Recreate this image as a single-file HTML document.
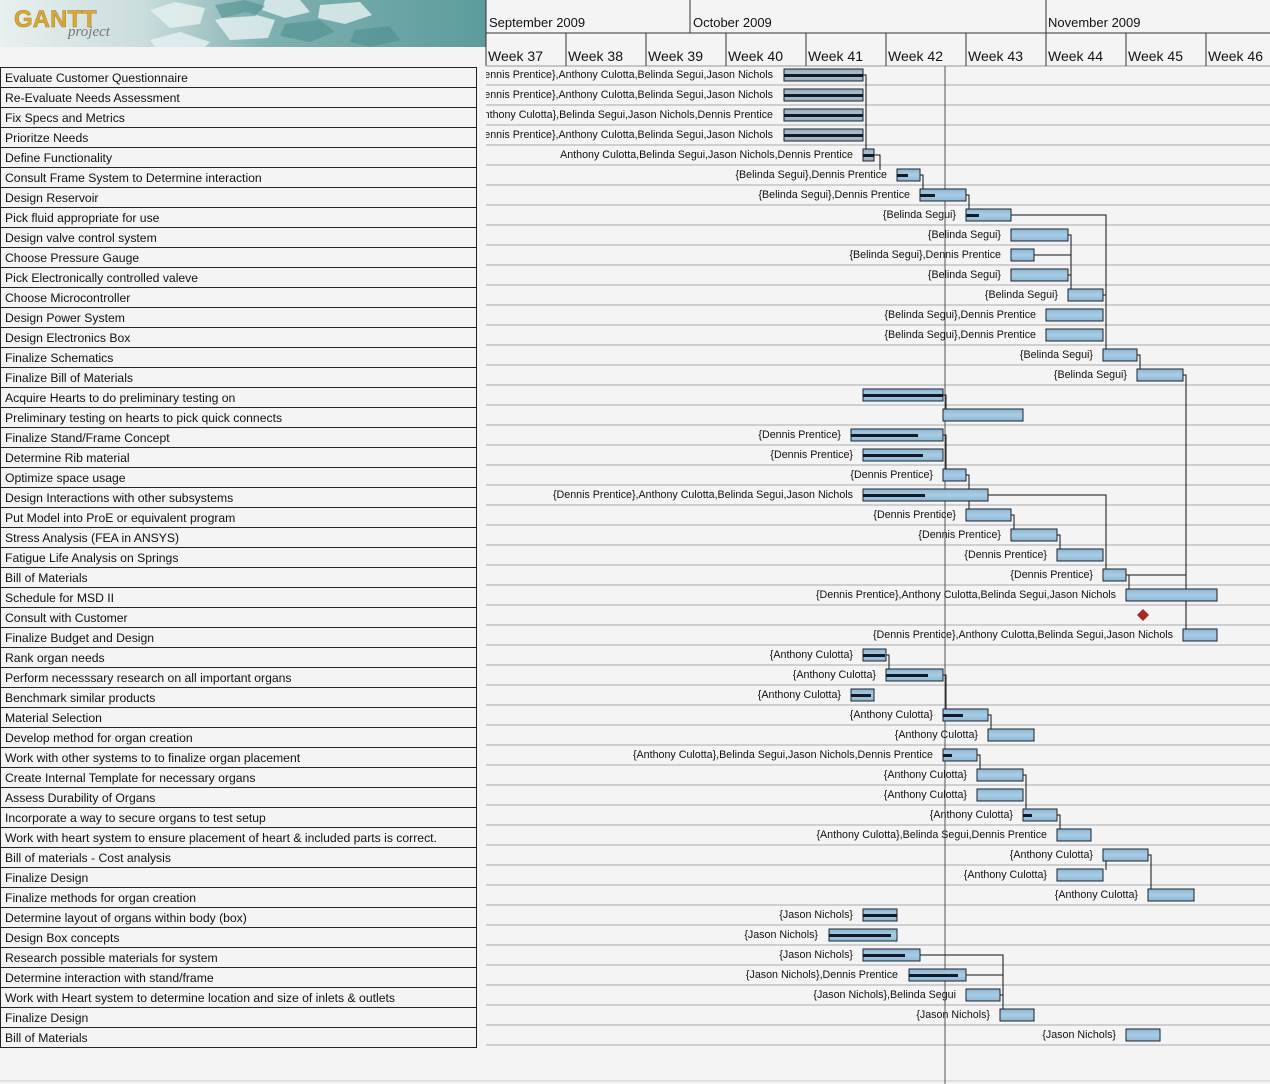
<!DOCTYPE html><html><head><meta charset="utf-8"><style>
body{margin:0;width:1270px;height:1084px;overflow:hidden;background:#f4f4f4;font-family:"Liberation Sans",sans-serif}
svg{display:block}
</style></head><body>
<svg width="1270" height="1084" xmlns="http://www.w3.org/2000/svg" font-family="Liberation Sans, sans-serif">
<defs>
<linearGradient id="logo" x1="0" x2="1" y1="0" y2="0"><stop offset="0" stop-color="#e8f0f0"/><stop offset="0.3" stop-color="#c9dcdc"/><stop offset="0.55" stop-color="#7fb0b0"/><stop offset="1" stop-color="#5d9c9c"/></linearGradient>
<linearGradient id="bb" x1="0" x2="0" y1="0" y2="1"><stop offset="0" stop-color="#8fb5d0"/><stop offset="0.5" stop-color="#a8cde6"/><stop offset="1" stop-color="#8fb5d0"/></linearGradient>
<linearGradient id="bg" x1="0" x2="0" y1="0" y2="1"><stop offset="0" stop-color="#98adbd"/><stop offset="0.5" stop-color="#b4c4d0"/><stop offset="1" stop-color="#98adbd"/></linearGradient>
<clipPath id="cl"><rect x="486" y="66" width="784" height="1018"/></clipPath>
</defs>
<rect width="1270" height="1084" fill="#f4f4f4"/>
<rect x="0" y="0" width="486" height="47" fill="url(#logo)"/>
<g fill="#e8f2f2" opacity="0.8">
<polygon points="150,10 175,2 205,8 200,24 170,28"/><polygon points="215,20 245,12 275,20 268,38 230,40"/>
<polygon points="265,0 300,0 310,12 285,18 262,10"/><polygon points="320,5 360,2 372,15 345,24 318,18"/>
<polygon points="150,40 180,32 210,42 205,47 155,47"/>
</g>
<g fill="#4f9090" opacity="0.6"><polygon points="215,5 245,0 265,6 255,16 222,18"/><polygon points="285,24 320,20 335,32 310,42 280,36"/><polygon points="355,30 390,26 400,40 370,47 350,42"/></g>
<text x="14" y="27" font-size="24" fill="#d8a838" stroke="#b08020" stroke-width="0.5" font-weight="bold">GANTT</text>
<text x="68" y="36" font-size="15" fill="#777" font-style="italic" font-family="Liberation Serif, serif">project</text>
<line x1="486" y1="0" x2="486" y2="66" stroke="#333"/>
<line x1="486" y1="33" x2="1270" y2="33" stroke="#333"/>
<line x1="486" y1="66" x2="1270" y2="66" stroke="#999"/>
<line x1="690" y1="0" x2="690" y2="33" stroke="#333"/>
<line x1="1046" y1="0" x2="1046" y2="33" stroke="#333"/>
<g font-size="13" fill="#111">
<text x="489" y="27">September 2009</text><text x="693" y="27">October 2009</text><text x="1048" y="27">November 2009</text>
</g>
<g stroke="#333"><line x1="566" y1="33" x2="566" y2="66"/><line x1="646" y1="33" x2="646" y2="66"/><line x1="726" y1="33" x2="726" y2="66"/><line x1="806" y1="33" x2="806" y2="66"/><line x1="886" y1="33" x2="886" y2="66"/><line x1="966" y1="33" x2="966" y2="66"/><line x1="1046" y1="33" x2="1046" y2="66"/><line x1="1126" y1="33" x2="1126" y2="66"/><line x1="1206" y1="33" x2="1206" y2="66"/></g>
<g font-size="14" fill="#111" xml:space="preserve">
<text x="488" y="61">Week  37</text><text x="568" y="61">Week  38</text><text x="648" y="61">Week  39</text><text x="728" y="61">Week  40</text><text x="808" y="61">Week  41</text><text x="888" y="61">Week  42</text><text x="968" y="61">Week  43</text><text x="1048" y="61">Week  44</text><text x="1128" y="61">Week  45</text><text x="1208" y="61">Week  46</text>
</g>
<g stroke="#aaa">
<line x1="486" x2="1270" y1="85" y2="85"/><line x1="486" x2="1270" y1="105" y2="105"/><line x1="486" x2="1270" y1="125" y2="125"/><line x1="486" x2="1270" y1="145" y2="145"/><line x1="486" x2="1270" y1="165" y2="165"/><line x1="486" x2="1270" y1="185" y2="185"/><line x1="486" x2="1270" y1="205" y2="205"/><line x1="486" x2="1270" y1="225" y2="225"/><line x1="486" x2="1270" y1="245" y2="245"/><line x1="486" x2="1270" y1="265" y2="265"/><line x1="486" x2="1270" y1="285" y2="285"/><line x1="486" x2="1270" y1="305" y2="305"/><line x1="486" x2="1270" y1="325" y2="325"/><line x1="486" x2="1270" y1="345" y2="345"/><line x1="486" x2="1270" y1="365" y2="365"/><line x1="486" x2="1270" y1="385" y2="385"/><line x1="486" x2="1270" y1="405" y2="405"/><line x1="486" x2="1270" y1="425" y2="425"/><line x1="486" x2="1270" y1="445" y2="445"/><line x1="486" x2="1270" y1="465" y2="465"/><line x1="486" x2="1270" y1="485" y2="485"/><line x1="486" x2="1270" y1="505" y2="505"/><line x1="486" x2="1270" y1="525" y2="525"/><line x1="486" x2="1270" y1="545" y2="545"/><line x1="486" x2="1270" y1="565" y2="565"/><line x1="486" x2="1270" y1="585" y2="585"/><line x1="486" x2="1270" y1="605" y2="605"/><line x1="486" x2="1270" y1="625" y2="625"/><line x1="486" x2="1270" y1="645" y2="645"/><line x1="486" x2="1270" y1="665" y2="665"/><line x1="486" x2="1270" y1="685" y2="685"/><line x1="486" x2="1270" y1="705" y2="705"/><line x1="486" x2="1270" y1="725" y2="725"/><line x1="486" x2="1270" y1="745" y2="745"/><line x1="486" x2="1270" y1="765" y2="765"/><line x1="486" x2="1270" y1="785" y2="785"/><line x1="486" x2="1270" y1="805" y2="805"/><line x1="486" x2="1270" y1="825" y2="825"/><line x1="486" x2="1270" y1="845" y2="845"/><line x1="486" x2="1270" y1="865" y2="865"/><line x1="486" x2="1270" y1="885" y2="885"/><line x1="486" x2="1270" y1="905" y2="905"/><line x1="486" x2="1270" y1="925" y2="925"/><line x1="486" x2="1270" y1="945" y2="945"/><line x1="486" x2="1270" y1="965" y2="965"/><line x1="486" x2="1270" y1="985" y2="985"/><line x1="486" x2="1270" y1="1005" y2="1005"/><line x1="486" x2="1270" y1="1025" y2="1025"/><line x1="486" x2="1270" y1="1045" y2="1045"/>
<line x1="0" x2="1270" y1="1081" y2="1081" stroke="#ccc"/>
</g>
<line x1="945" y1="66" x2="945" y2="1084" stroke="#555"/>
<rect x="0.5" y="67.5" width="476" height="980" stroke="#222" fill="#f4f4f4"/>
<g stroke="#222"><line x1="0" x2="477" y1="87.5" y2="87.5"/><line x1="0" x2="477" y1="107.5" y2="107.5"/><line x1="0" x2="477" y1="127.5" y2="127.5"/><line x1="0" x2="477" y1="147.5" y2="147.5"/><line x1="0" x2="477" y1="167.5" y2="167.5"/><line x1="0" x2="477" y1="187.5" y2="187.5"/><line x1="0" x2="477" y1="207.5" y2="207.5"/><line x1="0" x2="477" y1="227.5" y2="227.5"/><line x1="0" x2="477" y1="247.5" y2="247.5"/><line x1="0" x2="477" y1="267.5" y2="267.5"/><line x1="0" x2="477" y1="287.5" y2="287.5"/><line x1="0" x2="477" y1="307.5" y2="307.5"/><line x1="0" x2="477" y1="327.5" y2="327.5"/><line x1="0" x2="477" y1="347.5" y2="347.5"/><line x1="0" x2="477" y1="367.5" y2="367.5"/><line x1="0" x2="477" y1="387.5" y2="387.5"/><line x1="0" x2="477" y1="407.5" y2="407.5"/><line x1="0" x2="477" y1="427.5" y2="427.5"/><line x1="0" x2="477" y1="447.5" y2="447.5"/><line x1="0" x2="477" y1="467.5" y2="467.5"/><line x1="0" x2="477" y1="487.5" y2="487.5"/><line x1="0" x2="477" y1="507.5" y2="507.5"/><line x1="0" x2="477" y1="527.5" y2="527.5"/><line x1="0" x2="477" y1="547.5" y2="547.5"/><line x1="0" x2="477" y1="567.5" y2="567.5"/><line x1="0" x2="477" y1="587.5" y2="587.5"/><line x1="0" x2="477" y1="607.5" y2="607.5"/><line x1="0" x2="477" y1="627.5" y2="627.5"/><line x1="0" x2="477" y1="647.5" y2="647.5"/><line x1="0" x2="477" y1="667.5" y2="667.5"/><line x1="0" x2="477" y1="687.5" y2="687.5"/><line x1="0" x2="477" y1="707.5" y2="707.5"/><line x1="0" x2="477" y1="727.5" y2="727.5"/><line x1="0" x2="477" y1="747.5" y2="747.5"/><line x1="0" x2="477" y1="767.5" y2="767.5"/><line x1="0" x2="477" y1="787.5" y2="787.5"/><line x1="0" x2="477" y1="807.5" y2="807.5"/><line x1="0" x2="477" y1="827.5" y2="827.5"/><line x1="0" x2="477" y1="847.5" y2="847.5"/><line x1="0" x2="477" y1="867.5" y2="867.5"/><line x1="0" x2="477" y1="887.5" y2="887.5"/><line x1="0" x2="477" y1="907.5" y2="907.5"/><line x1="0" x2="477" y1="927.5" y2="927.5"/><line x1="0" x2="477" y1="947.5" y2="947.5"/><line x1="0" x2="477" y1="967.5" y2="967.5"/><line x1="0" x2="477" y1="987.5" y2="987.5"/><line x1="0" x2="477" y1="1007.5" y2="1007.5"/><line x1="0" x2="477" y1="1027.5" y2="1027.5"/></g>
<g font-size="12.2" fill="#111">
<text x="5" y="82">Evaluate Customer Questionnaire</text>
<text x="5" y="102">Re-Evaluate Needs Assessment</text>
<text x="5" y="122">Fix Specs and Metrics</text>
<text x="5" y="142">Prioritze Needs</text>
<text x="5" y="162">Define Functionality</text>
<text x="5" y="182">Consult Frame System to Determine interaction</text>
<text x="5" y="202">Design Reservoir</text>
<text x="5" y="222">Pick fluid appropriate for use</text>
<text x="5" y="242">Design valve control system</text>
<text x="5" y="262">Choose Pressure Gauge</text>
<text x="5" y="282">Pick Electronically controlled valeve</text>
<text x="5" y="302">Choose Microcontroller</text>
<text x="5" y="322">Design Power System</text>
<text x="5" y="342">Design Electronics Box</text>
<text x="5" y="362">Finalize Schematics</text>
<text x="5" y="382">Finalize Bill of Materials</text>
<text x="5" y="402">Acquire Hearts to do preliminary testing on</text>
<text x="5" y="422">Preliminary testing on hearts to pick quick connects</text>
<text x="5" y="442">Finalize Stand/Frame Concept</text>
<text x="5" y="462">Determine Rib material</text>
<text x="5" y="482">Optimize space usage</text>
<text x="5" y="502">Design Interactions with other subsystems</text>
<text x="5" y="522">Put Model into ProE or equivalent program</text>
<text x="5" y="542">Stress Analysis (FEA in ANSYS)</text>
<text x="5" y="562">Fatigue Life Analysis on Springs</text>
<text x="5" y="582">Bill of Materials</text>
<text x="5" y="602">Schedule for MSD II</text>
<text x="5" y="622">Consult with Customer</text>
<text x="5" y="642">Finalize Budget and Design</text>
<text x="5" y="662">Rank organ needs</text>
<text x="5" y="682">Perform necesssary research on all important organs</text>
<text x="5" y="702">Benchmark similar products</text>
<text x="5" y="722">Material Selection</text>
<text x="5" y="742">Develop method for organ creation</text>
<text x="5" y="762">Work with other systems to to finalize organ placement</text>
<text x="5" y="782">Create Internal Template for necessary organs</text>
<text x="5" y="802">Assess Durability of Organs</text>
<text x="5" y="822">Incorporate a way to secure organs to test setup</text>
<text x="5" y="842">Work with heart system to ensure placement of heart &amp; included parts is correct.</text>
<text x="5" y="862">Bill of materials - Cost analysis</text>
<text x="5" y="882">Finalize Design</text>
<text x="5" y="902">Finalize methods for organ creation</text>
<text x="5" y="922">Determine layout of organs within body (box)</text>
<text x="5" y="942">Design Box concepts</text>
<text x="5" y="962">Research possible materials for system</text>
<text x="5" y="982">Determine interaction with stand/frame</text>
<text x="5" y="1002">Work with Heart system to determine location and size of inlets &amp; outlets</text>
<text x="5" y="1022">Finalize Design</text>
<text x="5" y="1042">Bill of Materials</text>
</g>
<g stroke="#111" fill="none" clip-path="url(#cl)">
<path d="M863,75 H866 V150"/><path d="M874,155 H880 V170"/>
<path d="M920,175 H923 V190"/><path d="M966,195 H969 V210"/>
<path d="M1011,215 H1106 V350"/><path d="M1068,235 H1071 V290"/><path d="M1034,255 H1071"/><path d="M1068,275 H1071"/>
<path d="M1103,295 H1106"/><path d="M1137,355 H1140 V370"/><path d="M1183,375 H1186 V630"/>
<path d="M943,395 H946 V410"/><path d="M943,435 H946 V470"/><path d="M966,475 H969 V510"/>
<path d="M988,495 H1106 V570"/><path d="M1011,515 H1014 V530"/><path d="M1057,535 H1060 V550"/>
<path d="M1126,575 H1186"/><path d="M1126,575 H1129 V590"/>
<path d="M886,655 H889 V670"/><path d="M943,675 H946 V710"/><path d="M988,715 H991 V730"/>
<path d="M977,755 H980 V770"/><path d="M1023,775 H1026 V810"/><path d="M1057,815 H1060 V830"/>
<path d="M1103,855 H1106 V870"/><path d="M1148,855 H1151 V890"/>
<path d="M920,955 H1003 V1010"/><path d="M966,975 H1003"/><path d="M1000,995 H1003"/>
</g>
<g stroke="#1a2330" stroke-width="1">
<rect x="784" y="69" width="79" height="12" fill="url(#bg)"/>
<rect x="784" y="89" width="79" height="12" fill="url(#bg)"/>
<rect x="784" y="109" width="79" height="12" fill="url(#bg)"/>
<rect x="784" y="129" width="79" height="12" fill="url(#bg)"/>
<rect x="863" y="149" width="11" height="12" fill="url(#bg)"/>
<rect x="897" y="169" width="23" height="12" fill="url(#bb)"/>
<rect x="920" y="189" width="46" height="12" fill="url(#bb)"/>
<rect x="966" y="209" width="45" height="12" fill="url(#bb)"/>
<rect x="1011" y="229" width="57" height="12" fill="url(#bb)"/>
<rect x="1011" y="249" width="23" height="12" fill="url(#bb)"/>
<rect x="1011" y="269" width="57" height="12" fill="url(#bb)"/>
<rect x="1068" y="289" width="35" height="12" fill="url(#bb)"/>
<rect x="1046" y="309" width="57" height="12" fill="url(#bb)"/>
<rect x="1046" y="329" width="57" height="12" fill="url(#bb)"/>
<rect x="1103" y="349" width="34" height="12" fill="url(#bb)"/>
<rect x="1137" y="369" width="46" height="12" fill="url(#bb)"/>
<rect x="863" y="389" width="80" height="12" fill="url(#bb)"/>
<rect x="943" y="409" width="80" height="12" fill="url(#bb)"/>
<rect x="851" y="429" width="92" height="12" fill="url(#bb)"/>
<rect x="863" y="449" width="80" height="12" fill="url(#bb)"/>
<rect x="943" y="469" width="23" height="12" fill="url(#bb)"/>
<rect x="863" y="489" width="125" height="12" fill="url(#bb)"/>
<rect x="966" y="509" width="45" height="12" fill="url(#bb)"/>
<rect x="1011" y="529" width="46" height="12" fill="url(#bb)"/>
<rect x="1057" y="549" width="46" height="12" fill="url(#bb)"/>
<rect x="1103" y="569" width="23" height="12" fill="url(#bb)"/>
<rect x="1126" y="589" width="91" height="12" fill="url(#bb)"/>
<rect x="1183" y="629" width="34" height="12" fill="url(#bb)"/>
<rect x="863" y="649" width="23" height="12" fill="url(#bb)"/>
<rect x="886" y="669" width="57" height="12" fill="url(#bb)"/>
<rect x="851" y="689" width="23" height="12" fill="url(#bb)"/>
<rect x="943" y="709" width="45" height="12" fill="url(#bb)"/>
<rect x="988" y="729" width="46" height="12" fill="url(#bb)"/>
<rect x="943" y="749" width="34" height="12" fill="url(#bb)"/>
<rect x="977" y="769" width="46" height="12" fill="url(#bb)"/>
<rect x="977" y="789" width="46" height="12" fill="url(#bb)"/>
<rect x="1023" y="809" width="34" height="12" fill="url(#bb)"/>
<rect x="1057" y="829" width="34" height="12" fill="url(#bb)"/>
<rect x="1103" y="849" width="45" height="12" fill="url(#bb)"/>
<rect x="1057" y="869" width="46" height="12" fill="url(#bb)"/>
<rect x="1148" y="889" width="46" height="12" fill="url(#bb)"/>
<rect x="863" y="909" width="34" height="12" fill="url(#bb)"/>
<rect x="829" y="929" width="68" height="12" fill="url(#bb)"/>
<rect x="863" y="949" width="57" height="12" fill="url(#bb)"/>
<rect x="909" y="969" width="57" height="12" fill="url(#bb)"/>
<rect x="966" y="989" width="34" height="12" fill="url(#bb)"/>
<rect x="1000" y="1009" width="34" height="12" fill="url(#bb)"/>
<rect x="1126" y="1029" width="34" height="12" fill="url(#bb)"/>
</g>
<g fill="#111a28">
<rect x="784" y="74" width="79" height="3"/><rect x="784" y="94" width="79" height="3"/><rect x="784" y="114" width="79" height="3"/><rect x="784" y="134" width="79" height="3"/><rect x="863" y="154" width="11" height="3"/>
<rect x="897" y="174" width="11" height="3"/><rect x="920" y="194" width="15" height="3"/><rect x="966" y="214" width="13" height="3"/>
<rect x="863" y="394" width="80" height="3"/><rect x="851" y="434" width="67" height="3"/><rect x="863" y="454" width="60" height="3"/><rect x="863" y="494" width="62" height="3"/>
<rect x="863" y="654" width="22" height="3"/><rect x="886" y="674" width="42" height="3"/><rect x="851" y="694" width="20" height="3"/><rect x="943" y="714" width="20" height="3"/><rect x="943" y="754" width="9" height="3"/><rect x="1023" y="814" width="9" height="3"/>
<rect x="863" y="914" width="34" height="3"/><rect x="829" y="934" width="62" height="3"/><rect x="863" y="954" width="42" height="3"/><rect x="909" y="974" width="49" height="3"/>
</g>
<polygon points="1143,609 1149,615 1143,621 1137,615" fill="#a82828"/>
<g font-size="10.7" fill="#111" text-anchor="end" clip-path="url(#cl)">
<text x="773" y="78">{Dennis Prentice},Anthony Culotta,Belinda Segui,Jason Nichols</text>
<text x="773" y="98">{Dennis Prentice},Anthony Culotta,Belinda Segui,Jason Nichols</text>
<text x="773" y="118">{Anthony Culotta},Belinda Segui,Jason Nichols,Dennis Prentice</text>
<text x="773" y="138">{Dennis Prentice},Anthony Culotta,Belinda Segui,Jason Nichols</text>
<text x="853" y="158">Anthony Culotta,Belinda Segui,Jason Nichols,Dennis Prentice</text>
<text x="887" y="178">{Belinda Segui},Dennis Prentice</text>
<text x="910" y="198">{Belinda Segui},Dennis Prentice</text>
<text x="956" y="218">{Belinda Segui}</text>
<text x="1001" y="238">{Belinda Segui}</text>
<text x="1001" y="258">{Belinda Segui},Dennis Prentice</text>
<text x="1001" y="278">{Belinda Segui}</text>
<text x="1058" y="298">{Belinda Segui}</text>
<text x="1036" y="318">{Belinda Segui},Dennis Prentice</text>
<text x="1036" y="338">{Belinda Segui},Dennis Prentice</text>
<text x="1093" y="358">{Belinda Segui}</text>
<text x="1127" y="378">{Belinda Segui}</text>
<text x="841" y="438">{Dennis Prentice}</text>
<text x="853" y="458">{Dennis Prentice}</text>
<text x="933" y="478">{Dennis Prentice}</text>
<text x="853" y="498">{Dennis Prentice},Anthony Culotta,Belinda Segui,Jason Nichols</text>
<text x="956" y="518">{Dennis Prentice}</text>
<text x="1001" y="538">{Dennis Prentice}</text>
<text x="1047" y="558">{Dennis Prentice}</text>
<text x="1093" y="578">{Dennis Prentice}</text>
<text x="1116" y="598">{Dennis Prentice},Anthony Culotta,Belinda Segui,Jason Nichols</text>
<text x="1173" y="638">{Dennis Prentice},Anthony Culotta,Belinda Segui,Jason Nichols</text>
<text x="853" y="658">{Anthony Culotta}</text>
<text x="876" y="678">{Anthony Culotta}</text>
<text x="841" y="698">{Anthony Culotta}</text>
<text x="933" y="718">{Anthony Culotta}</text>
<text x="978" y="738">{Anthony Culotta}</text>
<text x="933" y="758">{Anthony Culotta},Belinda Segui,Jason Nichols,Dennis Prentice</text>
<text x="967" y="778">{Anthony Culotta}</text>
<text x="967" y="798">{Anthony Culotta}</text>
<text x="1013" y="818">{Anthony Culotta}</text>
<text x="1047" y="838">{Anthony Culotta},Belinda Segui,Dennis Prentice</text>
<text x="1093" y="858">{Anthony Culotta}</text>
<text x="1047" y="878">{Anthony Culotta}</text>
<text x="1138" y="898">{Anthony Culotta}</text>
<text x="853" y="918">{Jason Nichols}</text>
<text x="818" y="938">{Jason Nichols}</text>
<text x="853" y="958">{Jason Nichols}</text>
<text x="898" y="978">{Jason Nichols},Dennis Prentice</text>
<text x="956" y="998">{Jason Nichols},Belinda Segui</text>
<text x="990" y="1018">{Jason Nichols}</text>
<text x="1116" y="1038">{Jason Nichols}</text>
</g>
</svg>
</body></html>
